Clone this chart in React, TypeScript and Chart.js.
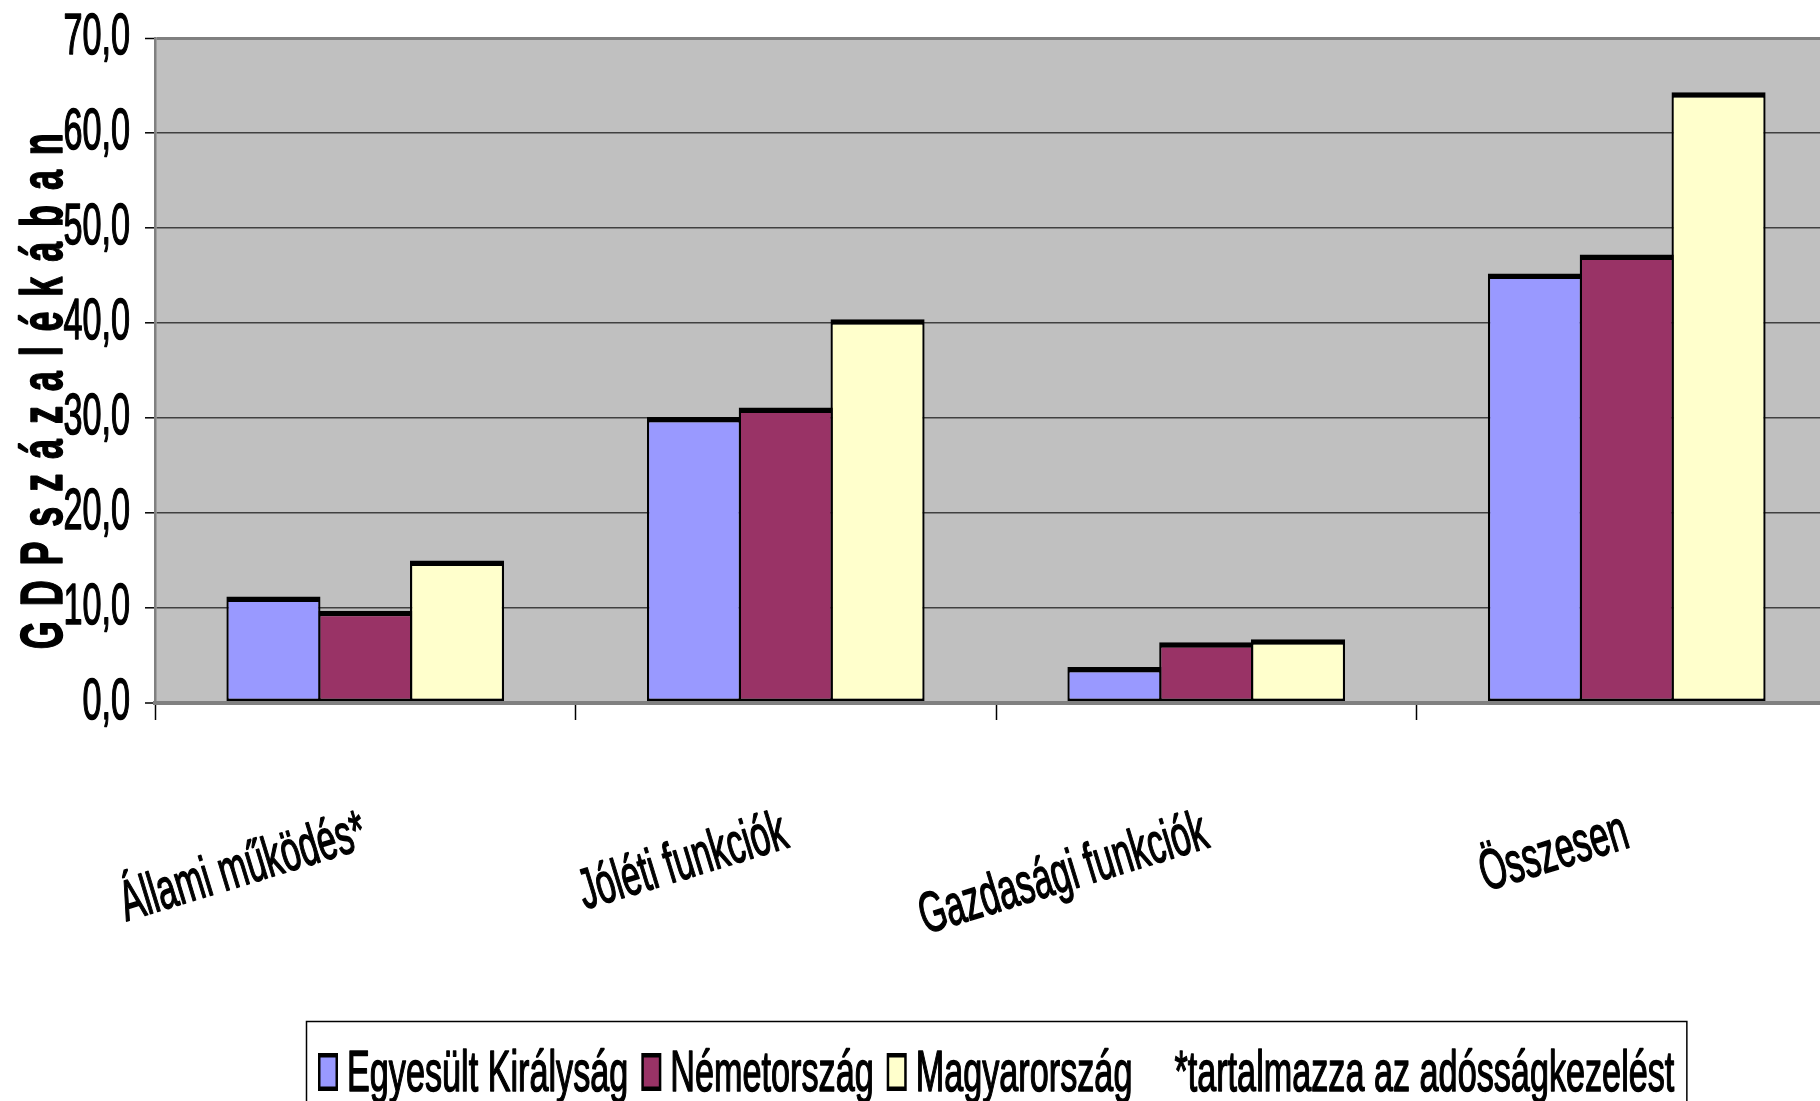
import { useEffect, useRef } from 'react';
import { Chart, registerables } from 'chart.js';

Chart.register(...registerables);

// ---- data ----
const categories = ['Állami működés*', 'Jóléti funkciók', 'Gazdasági funkciók', 'Összesen'];
const seriesNames = ['Egyesült Királyság', 'Németország', 'Magyarország'];
const ukValues = [11.2, 30.1, 3.8, 45.2];
const deValues = [9.7, 31.1, 6.4, 47.2];
const huValues = [15.0, 40.4, 6.7, 64.3];
const seriesColors = ['#9999FF', '#993366', '#FFFFCC'];
const footnote = '*tartalmazza az adósságkezelést';
const yTitle = 'G D P s z á z a l é k á b a n';
const yMin = 0;
const yMax = 70;
const yStep = 10;

// ---- layout / style ----
const W = 1845;
const H = 1101;
const FONT = '"Liberation Sans", Arial, sans-serif';
const SX = 0.6; // horizontal condensation of all text, along its baseline
const TEXT_STROKE = 1.5;
const PLOT_BG = '#C0C0C0';
const TEXT_SIZE = 57;

function patchContext(ctx: any) {
  if (ctx.__condensed) return;
  ctx.__condensed = true;
  const origFill = ctx.fillText.bind(ctx);
  const origStroke = ctx.strokeText.bind(ctx);
  const origMeasure = ctx.measureText.bind(ctx);
  ctx.fillText = (text: string, x: number, y: number) => {
    ctx.save();
    ctx.translate(x, y);
    ctx.scale(SX, 1);
    origFill(text, 0, 0);
    ctx.strokeStyle = ctx.fillStyle;
    ctx.lineWidth = TEXT_STROKE;
    ctx.lineJoin = 'round';
    ctx.setLineDash([]);
    origStroke(text, 0, 0);
    ctx.restore();
  };
  ctx.measureText = (text: string) => {
    const m = origMeasure(text);
    return {
      width: m.width * SX,
      actualBoundingBoxAscent: m.actualBoundingBoxAscent,
      actualBoundingBoxDescent: m.actualBoundingBoxDescent,
      actualBoundingBoxLeft: m.actualBoundingBoxLeft * SX,
      actualBoundingBoxRight: m.actualBoundingBoxRight * SX,
      fontBoundingBoxAscent: m.fontBoundingBoxAscent,
      fontBoundingBoxDescent: m.fontBoundingBoxDescent,
    };
  };
}

const plotBackground = {
  id: 'plotBackground',
  beforeDraw(chart: any) {
    const { ctx, chartArea } = chart;
    ctx.save();
    ctx.fillStyle = '#ffffff';
    ctx.fillRect(0, 0, chart.width, chart.height);
    ctx.fillStyle = PLOT_BG;
    ctx.fillRect(chartArea.left, chartArea.top, chartArea.right - chartArea.left, chartArea.bottom - chartArea.top);
    ctx.restore();
  },
};

const extras = {
  id: 'extras',
  afterDraw(chart: any) {
    const { ctx, chartArea } = chart;
    // y-axis title
    ctx.save();
    ctx.font = `bold 60px ${FONT}`;
    ctx.fillStyle = '#000';
    const target = 516;
    const base = ctx.measureText(yTitle).width;
    const n = Array.from(yTitle).length;
    const extra = (target - base) / (n - 1);
    (ctx as any).letterSpacing = `${extra / SX}px`;
    ctx.translate(62, 390);
    ctx.rotate(-Math.PI / 2);
    ctx.textAlign = 'center';
    ctx.textBaseline = 'alphabetic';
    ctx.fillText(yTitle, 0, 0);
    ctx.restore();

    // legend
    ctx.save();
    (ctx as any).letterSpacing = '0px';
    ctx.font = `${TEXT_SIZE}px ${FONT}`;
    const items = chart.data.datasets.map((d: any) => ({ label: d.label, color: d.backgroundColor, marker: true }));
    items.push({ label: footnote, color: 'transparent', marker: false });
    const mw = 20, mh = 38, gapMT = 9, gapItems = 13, pad = 12;
    const widths = items.map((it: any) => mw + gapMT + ctx.measureText(it.label).width);
    const total = widths.reduce((a: number, b: number) => a + b, 0) + gapItems * (items.length - 1) + 2 * pad;
    const cx = (chartArea.left + chartArea.right) / 2;
    const left = Math.round(cx - total / 2);
    const top = 1021;
    ctx.strokeStyle = '#000';
    ctx.lineWidth = 1.5;
    ctx.strokeRect(left + 0.5, top + 0.5, total, H - top + 20);
    let x = left + pad;
    const markerTop = 1053;
    const baseline = 1091;
    items.forEach((it: any, i: number) => {
      if (it.marker) {
        ctx.fillStyle = '#000';
        ctx.fillRect(x, markerTop, mw, mh);
        ctx.fillStyle = it.color;
        ctx.fillRect(x + 2.5, markerTop + 4.5, mw - 5, mh - 9);
      }
      ctx.fillStyle = '#000';
      ctx.textAlign = 'left';
      ctx.textBaseline = 'alphabetic';
      ctx.fillText(it.label, x + mw + gapMT, baseline);
      x += widths[i] + gapItems;
    });
    ctx.restore();
  },
};

const barBorder = { top: 5.5, left: 2.3, right: 2.3, bottom: 2.5 };

export default function App() {
  const ref = useRef<HTMLCanvasElement>(null);

  useEffect(() => {
    const canvas = ref.current!;
    const ctx = canvas.getContext('2d')!;
    patchContext(ctx);

    const values = [ukValues, deValues, huValues];
    const chart = new Chart(canvas, {
      type: 'bar',
      data: {
        labels: categories,
        datasets: seriesNames.map((name, i) => ({
          label: name,
          data: values[i],
          backgroundColor: seriesColors[i],
          borderColor: '#000',
          borderWidth: barBorder,
          borderSkipped: false,
          barPercentage: 1.025,
          categoryPercentage: 0.655,
        })),
      },
      options: {
        responsive: false,
        animation: false,
        devicePixelRatio: 1,
        layout: { padding: { top: 38, right: 8, bottom: 80, left: 0 } },
        plugins: {
          legend: { display: false },
          tooltip: { enabled: false },
        },
        scales: {
          x: {
            grid: {
              display: true,
              drawOnChartArea: false,
              drawTicks: true,
              tickLength: 17,
              tickColor: '#000',
              tickWidth: 1.5,
              offset: true,
            },
            border: { display: true, color: '#808080', width: 4 },
            ticks: {
              color: '#000',
              font: { family: FONT, size: TEXT_SIZE },
              minRotation: 17,
              maxRotation: 17,
              autoSkip: false,
              padding: 79,
            },
            afterFit: (s: any) => {
              s.height = 318;
              s.paddingLeft = 0;
              s.paddingRight = 0;
            },
          },
          y: {
            min: yMin,
            max: yMax,
            ticks: {
              stepSize: yStep,
              color: '#000',
              font: { family: FONT, size: TEXT_SIZE },
              padding: 15,
              callback: (v: any) => Number(v).toFixed(1).replace('.', ','),
            },
            grid: {
              color: (c: any) => (c.tick && (c.tick.value === yMax || c.tick.value === yMin) ? '#808080' : '#404040'),
              lineWidth: (c: any) => (c.tick && c.tick.value === yMax ? 3 : c.tick && c.tick.value === yMin ? 4 : 1.6),
              tickColor: '#000',
              tickWidth: 1.5,
              tickLength: 10,
              drawTicks: true,
            },
            border: { display: true, color: '#808080', width: 2.5 },
            afterFit: (s: any) => {
              s.width = 155;
              s.paddingTop = 0;
              s.paddingBottom = 0;
            },
          },
        },
      },
      plugins: [plotBackground, extras],
    } as any);

    return () => chart.destroy();
  }, []);

  return (
    <div
      style={{
        position: 'fixed',
        left: 0,
        top: 0,
        width: 1820,
        height: 1101,
        overflow: 'hidden',
        background: '#fff',
      }}
    >
      <canvas ref={ref} width={W} height={H} style={{ width: W + 'px', height: H + 'px', display: 'block' }} />
    </div>
  );
}
